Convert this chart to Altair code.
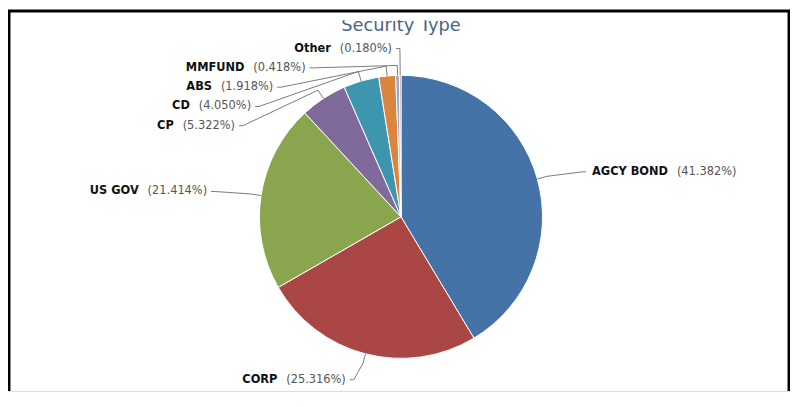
import altair as alt
import pandas as pd

# ---- data ----
names = ["AGCY BOND", "CORP", "US GOV", "CP", "CD", "ABS", "MMFUND", "Other"]
values = [41.382, 25.316, 21.414, 5.322, 4.050, 1.918, 0.418, 0.180]
colors = ["#4572A7", "#AA4643", "#89A54E", "#80699B", "#3D96AE", "#DB843D", "#92A8CD", "#A47D7C"]
title_text = "Security Type"

df = pd.DataFrame({"name": names, "value": values, "idx": list(range(len(names)))})

# ---- layout constants ----
W, H = 790, 385
CX, CY = 397, 209          # pie centre
R = 143                    # pie radius
RX, RY = 190, 170          # label ellipse
TOP, STEP = 39, 19.5       # stacking of crowded labels
FS = 11.5                  # label font size
GAP = 9

base = alt.Chart(df).transform_window(
    cum="sum(value)", sort=[alt.SortField("idx")], frame=[None, 0]
).transform_joinaggregate(
    total="sum(value)", n="count()"
).transform_calculate(
    mid=f"(datum.cum - datum.value/2)/datum.total*2*PI",
).transform_calculate(
    left="datum.mid > PI",
    ny=f"{CY} - {RY}*cos(datum.mid)",
).transform_calculate(
    ly=f"datum.left ? max(datum.ny, {TOP} + (datum.n - 1 - datum.idx)*{STEP}) : datum.ny",
).transform_calculate(
    lx=f"{CX} + (datum.left ? -1 : 1)*{RX}*sqrt(abs(1 - pow((datum.ly - {CY})/{RY}, 2)))",
    ex=f"{CX} + {R}*sin(datum.mid)",
    ey=f"{CY} - {R}*cos(datum.mid)",
    bx=f"{CX} + {R + 10}*sin(datum.mid)",
    by=f"{CY} - {R + 10}*cos(datum.mid)",
    pct="'(' + format(datum.value, '.3f') + '%)'",
).transform_calculate(
    sx="datum.lx + (datum.left ? -4 : 4)",
    tx="datum.lx + (datum.left ? -8 : 8)",
    pw=f"(2.048 + 0.636*(length(datum.pct) - 4))*{FS}",
    nw=f"length(datum.name)*0.76*{FS}",
).transform_calculate(
    name_end=f"datum.left ? datum.tx - datum.pw - {GAP} : datum.tx + datum.nw",
    pct_start=f"datum.left ? datum.tx - datum.pw : datum.tx + datum.nw + {GAP}",
)

pie = alt.Chart(df).mark_arc(radius=R, stroke="white", strokeWidth=1).encode(
    theta=alt.Theta("value:Q", stack=True),
    color=alt.Color("name:N", scale=alt.Scale(domain=names, range=colors), legend=None),
    order=alt.Order("idx:Q"),
    x=alt.value(CX),
    y=alt.value(CY),
)

connectors = base.transform_calculate(
    pxs="[datum.sx, datum.lx, datum.bx, datum.ex]",
    pys="[datum.ly, datum.ly, datum.by, datum.ey]",
    seq="[0, 1, 2, 3]",
).transform_flatten(["pxs", "pys", "seq"]).mark_line(
    color="#7a7a7a", strokeWidth=1
).encode(
    x=alt.X("pxs:Q", scale=None, axis=None),
    y=alt.Y("pys:Q", scale=None, axis=None),
    detail="name:N",
    order="seq:Q",
)

name_text = base.mark_text(
    align="right", baseline="middle", font="DejaVu Sans", fontSize=FS,
    fontWeight="bold", color="#111111"
).encode(
    x=alt.X("name_end:Q", scale=None, axis=None),
    y=alt.Y("ly:Q", scale=None, axis=None),
    text="name:N",
)

pct_text = base.mark_text(
    align="left", baseline="middle", font="DejaVu Sans", fontSize=FS,
    color="#555555"
).encode(
    x=alt.X("pct_start:Q", scale=None, axis=None),
    y=alt.Y("ly:Q", scale=None, axis=None),
    text="pct:N",
)

one = pd.DataFrame({"t": [title_text]})

title = alt.Chart(one).mark_text(
    align="center", baseline="alphabetic", font="DejaVu Sans", fontSize=18,
    color="#4a6480"
).encode(x=alt.value(CX), y=alt.value(21), text="t:N")

cover = alt.Chart(one).mark_rect(color="white").encode(
    x=alt.value(300), x2=alt.value(500), y=alt.value(2), y2=alt.value(10.5)
)

border_top = alt.Chart(one).mark_rule(color="black", strokeWidth=3).encode(
    x=alt.value(0), x2=alt.value(W), y=alt.value(1)
)
border_left = alt.Chart(one).mark_rule(color="black", strokeWidth=3).encode(
    x=alt.value(1), y=alt.value(0), y2=alt.value(H)
)
border_right = alt.Chart(one).mark_rule(color="black", strokeWidth=3).encode(
    x=alt.value(W - 1), y=alt.value(0), y2=alt.value(H)
)

chart = alt.layer(
    pie, connectors, name_text, pct_text, title, cover,
    border_top, border_left, border_right
).properties(
    width=W, height=H, padding=0,
    autosize=alt.AutoSizeParams(type="none"),
).configure_view(stroke=None).configure(background="white")

chart.save("out.html", embed_options={"renderer": "svg", "actions": False})
